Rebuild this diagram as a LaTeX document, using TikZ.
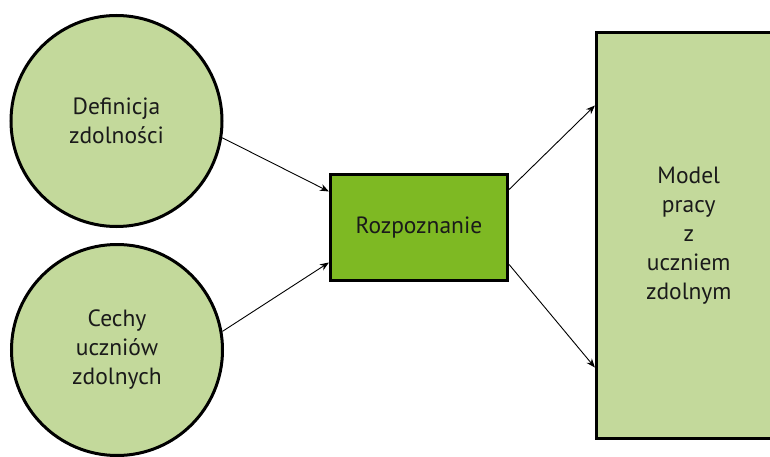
\documentclass[tikz,border=0pt]{standalone}
\usepackage{fontspec}
\setmainfont{PT Sans}
\usetikzlibrary{arrows.meta}
\definecolor{lightg}{HTML}{C3D99B}
\definecolor{darkg}{HTML}{7EB923}
\definecolor{txt}{HTML}{1A1A1A}
\tikzset{
  lbl/.style={text=txt, font=\fontsize{23.5}{29}\selectfont, align=center},
  bubble/.style={lbl, circle, draw=black, line width=3pt, fill=lightg, minimum size=211pt, inner sep=0pt},
  boxnode/.style={lbl, rectangle, draw=black, line width=3.2pt, inner sep=0pt},
  conn/.style={-{Stealth[length=9pt,width=7pt]}, line width=0.9pt, black}
}
\begin{document}
\begin{tikzpicture}[x=1pt,y=-1pt]
\useasboundingbox (0,0) rectangle (770,457);
\begin{scope}
\clip (0,0) rectangle (770,457);
\node[bubble] (c1) at (116.5,121) {Definicja\\zdolności};
\node[bubble] (c2) at (117,350) {Cechy\\uczniów\\zdolnych};
\node[boxnode, fill=darkg, minimum width=177pt, minimum height=106pt] (box) at (419,227.5) {Rozpoznanie};
\node[boxnode, fill=lightg, minimum width=184.5pt, minimum height=406pt] (model) at (688.75,235.5) {Model\\pracy\\z\\uczniem\\zdolnym};
\end{scope}
\draw[conn] (c1.-9) -- ([yshift=36pt]box.west);
\draw[conn] (c2.10) -- ([yshift=-35pt]box.west);
\draw[conn] ([yshift=38pt]box.east) -- ([yshift=130pt]model.west);
\draw[conn] ([yshift=-37pt]box.east) -- ([yshift=-132pt]model.west);
\end{tikzpicture}
\end{document}
